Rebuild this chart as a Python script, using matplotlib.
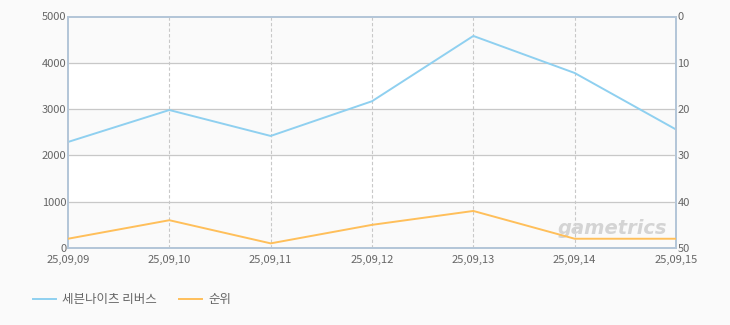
import matplotlib
matplotlib.use("Agg")
import matplotlib.pyplot as plt

# font list so Korean text renders
plt.rcParams['font.family'] = ['Noto Sans CJK KR', 'DejaVu Sans']

# data
dates = ["25,09,09", "25,09,10", "25,09,11", "25,09,12", "25,09,13", "25,09,14", "25,09,15"]
users = [2290, 2980, 2420, 3170, 4580, 3780, 2560]   # left axis
rank = [48, 44, 49, 45, 42, 48, 48]                   # right axis (inverted)
left_ticks = [0, 1000, 2000, 3000, 4000, 5000]
right_ticks = [0, 10, 20, 30, 40, 50]

text_col = "#666666"
spine_col = "#b4c6d8"

fig = plt.figure(figsize=(7.3, 3.25), dpi=100)
fig.patch.set_facecolor("#fafafa")
ax = fig.add_axes([68 / 730, 77 / 325, 608 / 730, 231.5 / 325])
ax.set_facecolor("white")

x = list(range(len(dates)))

# alternating bands behind the grid
for i in range(len(left_ticks) - 1):
    if i % 2 == 0:
        ax.axhspan(left_ticks[i], left_ticks[i + 1], color="#fafafa", zorder=0)

# horizontal grid lines (solid) and vertical ones (dashed)
for t in left_ticks[1:-1]:
    ax.axhline(t, color="#c8c8c8", lw=0.9, zorder=1)
for xi in x[1:-1]:
    ax.axvline(xi, color="#c8c8c8", lw=0.8, ls=(0, (3, 2)), zorder=1)

ax.plot(x, users, color="#8fd0f0", lw=1.4, zorder=3, label="세븐나이츠 리버스")
ax.set_xlim(0, len(dates) - 1)
ax.set_ylim(0, 5000)
ax.set_yticks(left_ticks)
ax.set_xticks(x)
ax.set_xticklabels(dates)

ax2 = ax.twinx()
ax2.plot(x, rank, color="#ffbf5a", lw=1.4, zorder=3, label="순위")
ax2.set_ylim(50, 0)
ax2.set_yticks(right_ticks)

for a in (ax, ax2):
    for s in a.spines.values():
        s.set_color(spine_col)
        s.set_linewidth(1.4)
    a.tick_params(length=0, labelsize=8, colors=text_col, pad=1)
ax.tick_params(axis="x", pad=5)

# watermark
ax.text(0.985, 0.045, "gametrics", transform=ax.transAxes, ha="right", va="bottom",
        fontsize=14, fontweight="bold", style="italic", color="#d4d4d4",
        family="DejaVu Sans", zorder=2)

# legend at bottom left
h1, l1 = ax.get_legend_handles_labels()
h2, l2 = ax2.get_legend_handles_labels()
fig.legend(h1 + h2, l1 + l2, loc="center left", bbox_to_anchor=(0.03, 25 / 325),
           ncol=2, frameon=False, fontsize=9, labelcolor=text_col,
           handlelength=1.8, columnspacing=1.8, handletextpad=0.5)

fig.savefig("out.png", dpi=100, facecolor=fig.get_facecolor())
